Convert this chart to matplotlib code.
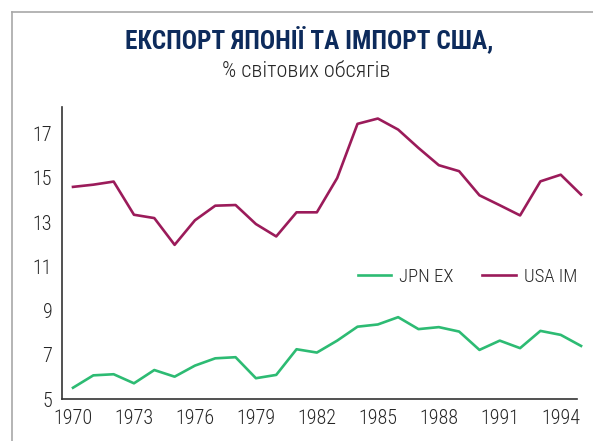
import matplotlib
matplotlib.use("Agg")
import matplotlib.pyplot as plt
from matplotlib import font_manager as fm
from matplotlib.lines import Line2D

years = list(range(1970, 1996))
jpn_ex = [5.51, 6.07, 6.12, 5.71, 6.31, 6.01, 6.51, 6.84, 6.89, 5.94, 6.09, 7.25, 7.10,
          7.64, 8.27, 8.37, 8.70, 8.16, 8.25, 8.05, 7.22, 7.64, 7.30, 8.08, 7.90, 7.40]
usa_im = [14.59, 14.69, 14.83, 13.33, 13.18, 11.97, 13.08, 13.74, 13.77, 12.91, 12.35, 13.44, 13.44,
          14.99, 17.44, 17.68, 17.18, 16.35, 15.57, 15.30, 14.21, 13.76, 13.30, 14.84, 15.14, 14.24]
x_ticks = list(range(1970, 1995, 3))
y_ticks = [5, 7, 9, 11, 13, 15, 17]

installed = {f.name for f in fm.fontManager.ttflist}
families = [n for n in ["Roboto Condensed", "Liberation Sans Narrow", "Roboto", "DejaVu Sans"]
            if n in installed]
plt.rcParams["font.family"] = families

fig = plt.figure(figsize=(5.93, 4.41), dpi=100)
ax = fig.add_axes([0.1046, 0.0952, 0.8684, 0.6621])

green = "#2dbb73"
purple = "#9b1b5a"
ax.plot(years, jpn_ex, color=green, lw=1.9, label="JPN EX", clip_on=False)
ax.plot(years, usa_im, color=purple, lw=1.9, label="USA IM", clip_on=False)

ax.set_xlim(1969.46, 1994.8)
ax.set_ylim(5, 18.2)
ax.set_xticks(x_ticks)
ax.set_yticks(y_ticks)
ax.tick_params(length=0, labelsize=14.5, colors="#262626", pad=7)
for lab in ax.get_xticklabels() + ax.get_yticklabels():
    lab.set_fontweight("light")
for s in ["top", "right"]:
    ax.spines[s].set_visible(False)
for s in ["left", "bottom"]:
    ax.spines[s].set_color("#333333")
    ax.spines[s].set_linewidth(1.2)

leg = ax.legend(loc="center", bbox_to_anchor=(0.787, 0.418), ncol=2, frameon=False,
                fontsize=13.5, handlelength=1.8, columnspacing=1.55, handletextpad=0.4,
                labelcolor="#262626")
for t in leg.get_texts():
    t.set_fontweight("light")

fig.text(0.521, 0.909, "ЕКСПОРТ ЯПОНІЇ ТА ІМПОРТ США,", ha="center", va="center",
         fontsize=18.3, fontweight="bold", color="#0d2b5c")
fig.text(0.516, 0.837, "% світових обсягів", ha="center", va="center",
         fontsize=16, fontweight="light", color="#262626")

# frame lines top and left
fig.add_artist(Line2D([12 / 593, 1], [1 - 12 / 441, 1 - 12 / 441], color="#a8a8a8", lw=1.2,
                      transform=fig.transFigure))
fig.add_artist(Line2D([12 / 593, 12 / 593], [0, 1 - 12 / 441], color="#a8a8a8", lw=1.2,
                      transform=fig.transFigure))

fig.savefig("out.png", dpi=100)
